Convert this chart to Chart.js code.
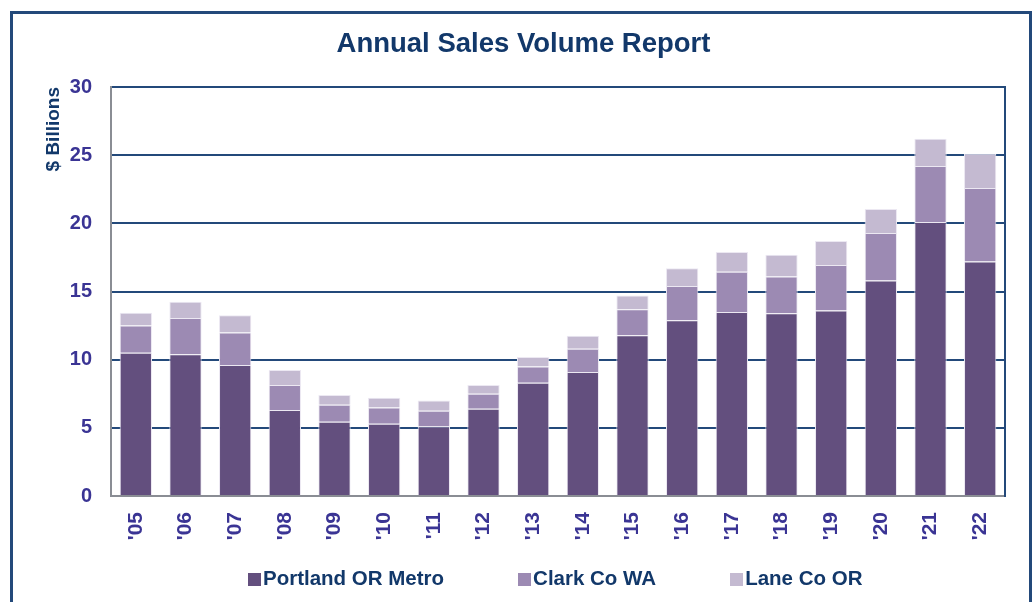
<!DOCTYPE html>
<html>
<head>
<meta charset="utf-8">
<script src="https://cdn.jsdelivr.net/npm/chart.js@4"></script>
<style>
  html, body { margin: 0; padding: 0; background: #fff; overflow: hidden; }
  #wrap { position: relative; width: 1034px; height: 602px; }
  #frame { position: absolute; left: 10px; top: 11px; width: 1016px; height: 620px; border: 3px solid #23497a; pointer-events: none; }
  canvas { position: absolute; left: 0; top: 0; }
  #leyenda { position: absolute; left: 248px; top: 566px; display: flex; gap: 74px; font: bold 20.5px 'Liberation Sans', Arial, sans-serif; color: #12386a; white-space: nowrap; }
  #leyenda .item { display: flex; align-items: center; }
  #leyenda .caja { width: 13px; height: 13px; margin-right: 2px; margin-top: 2px; }
</style>
</head>
<body>
<div id="wrap">
  <canvas id="ventasGr" width="1034" height="602"></canvas>
  <div id="leyenda"></div>
  <div id="frame"></div>
</div>
<script>
// Annual sales volume, $ billions
const anios = ["'05", "'06", "'07", "'08", "'09", "'10", "'11", "'12", "'13", "'14", "'15", "'16", "'17", "'18", "'19", "'20", "'21", "'22"];
const portland = [10.5, 10.4, 9.6, 6.3, 5.45, 5.3, 5.1, 6.4, 8.3, 9.1, 11.8, 12.9, 13.5, 13.4, 13.6, 15.8, 20.1, 17.2];
const clark = [2.0, 2.65, 2.4, 1.85, 1.25, 1.2, 1.15, 1.1, 1.2, 1.7, 1.9, 2.5, 2.95, 2.7, 3.35, 3.5, 4.1, 5.4];
const lane = [0.95, 1.2, 1.25, 1.1, 0.7, 0.7, 0.75, 0.65, 0.7, 0.95, 1.0, 1.3, 1.45, 1.6, 1.75, 1.75, 2.0, 2.5];
const yTicks = [0, 5, 10, 15, 20, 25, 30];

const navy = '#23497a';
const navyText = '#12386a';
const indigo = '#3a3494';
const font = "'Liberation Sans', Arial, sans-serif";

const data = {
    labels: anios,
    datasets: [
        {
            label: 'Portland OR Metro',
            data: portland,
            backgroundColor: '#634f7e',
            borderColor: '#ece8f2',
            borderWidth: 1,
        },
        {
            label: 'Clark Co WA',
            data: clark,
            backgroundColor: '#9c8ab3',
            borderColor: '#ece8f2',
            borderWidth: 1,
        },
        {
            label: 'Lane Co OR',
            data: lane,
            backgroundColor: '#c4bad1',
            borderColor: '#ece8f2',
            borderWidth: 1,
        }
    ]
};

const config = {
    type: 'bar',
    data: data,
    options: {
        responsive: false,
        animation: false,
        datasets: {
            bar: {
                categoryPercentage: 1,
                barPercentage: 0.65,
            }
        },
        layout: {
            padding: { left: 42, right: 29, top: 20, bottom: 43 }
        },
        plugins: {
            legend: { display: false },
            title: {
                display: true,
                text: 'Annual Sales Volume Report',
                color: navyText,
                font: { size: 27.5, weight: 'bold', family: font },
                padding: { top: 8, bottom: 26 }
            },
            tooltip: { enabled: false }
        },
        scales: {
            x: {
                stacked: true,
                grid: { display: false },
                border: { color: '#8a8d94', width: 2 },
                ticks: {
                    color: indigo,
                    maxRotation: 90,
                    minRotation: 90,
                    padding: 8,
                    font: { size: 21, weight: 'bold', family: font }
                },
                afterFit: (scale) => { scale.height = 63; }
            },
            y: {
                stacked: true,
                min: 0,
                max: 30,
                afterBuildTicks: (scale) => { scale.ticks = yTicks.map(v => ({ value: v })); },
                grid: { color: navy, lineWidth: 2, drawTicks: false },
                border: { color: '#8a8d94', width: 2 },
                ticks: {
                    color: indigo,
                    padding: 19,
                    font: { size: 20, weight: 'bold', family: font }
                },
                title: {
                    display: true,
                    text: '$ Billions',
                    align: 'end',
                    color: navyText,
                    padding: 0,
                    font: { size: 19, weight: 'bold', family: font }
                },
                afterFit: (scale) => { scale.width = 69; }
            },
            y2: {
                position: 'right',
                min: 0,
                max: 30,
                grid: { display: false },
                ticks: { display: false },
                border: { color: navy, width: 2 },
                afterFit: (scale) => { scale.width = 0; }
            }
        }
    },
};

const myChart = new Chart(
    document.getElementById('ventasGr'),
    config
);

// legend as html
const leyenda = document.getElementById('leyenda');
data.datasets.forEach(ds => {
    const item = document.createElement('div');
    item.className = 'item';
    const caja = document.createElement('span');
    caja.className = 'caja';
    caja.style.background = ds.backgroundColor;
    const texto = document.createElement('span');
    texto.textContent = ds.label;
    item.appendChild(caja);
    item.appendChild(texto);
    leyenda.appendChild(item);
});
</script>
</body>
</html>
